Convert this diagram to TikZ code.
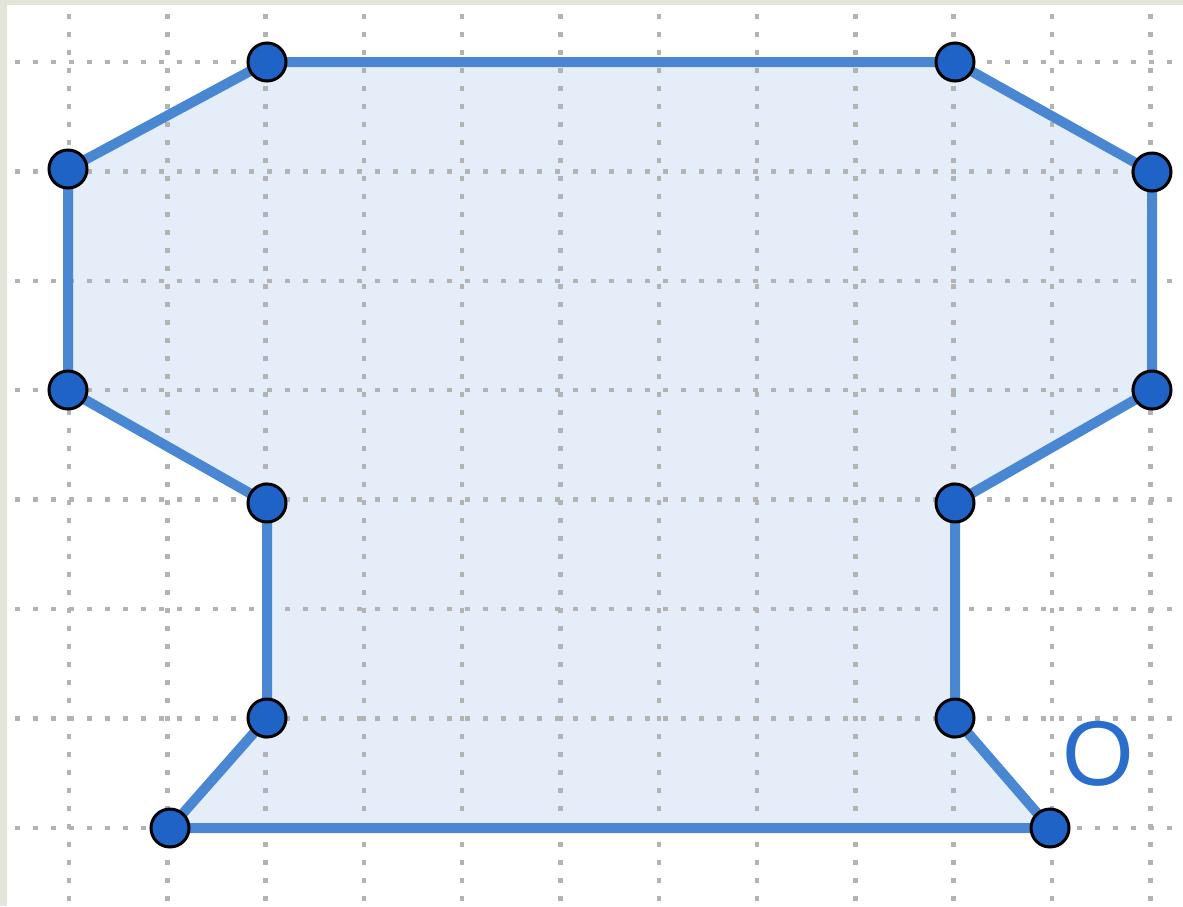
\documentclass[tikz,border=0pt]{standalone}
\usepackage{fontspec}
\setmainfont{Liberation Sans}
\definecolor{edgeblue}{HTML}{4A87D2}
\definecolor{vertblue}{HTML}{1F63C6}
\definecolor{fillblue}{HTML}{E4EDF8}
\definecolor{gridgray}{HTML}{B3B3B3}
\definecolor{framebeige}{HTML}{E4E5DA}
\definecolor{labelblue}{HTML}{2B6DCB}
\tikzset{
  griddot/.style={gridgray, line width=4.5pt, dash pattern=on 4.5pt off 13.5pt},
  edge/.style={edgeblue, line width=10pt, line join=round},
  vert/.style={circle, fill=vertblue, draw=black, line width=3pt, minimum size=38pt, inner sep=0pt},
}
\begin{document}
\begin{tikzpicture}[x=1pt,y=-1pt]
\useasboundingbox (0,0) rectangle (1183,906);
\fill[framebeige] (0,0) rectangle (1183,906);
\fill[white] (7,5) rectangle (1183,906);
% vertices
\coordinate (p1) at (267,62);
\coordinate (p2) at (955,62);
\coordinate (p3) at (1152,172);
\coordinate (p4) at (1152,390);
\coordinate (p5) at (955,503);
\coordinate (p6) at (955,718);
\coordinate (p7) at (1050,828);
\coordinate (p8) at (170,828);
\coordinate (p9) at (267,718);
\coordinate (p10) at (267,503);
\coordinate (p11) at (68,390);
\coordinate (p12) at (68,169);
\fill[fillblue] (p1) -- (p2) -- (p3) -- (p4) -- (p5) -- (p6) -- (p7) -- (p8) -- (p9) -- (p10) -- (p11) -- (p12) -- cycle;
% grid
\foreach \i in {0,...,11} {
  \draw[griddot] (69+\i*98.3,14) -- (69+\i*98.3,906);
}
\foreach \j in {0,...,7} {
  \draw[griddot] (15,62+\j*109.4) -- (1183,62+\j*109.4);
}
\draw[edge] (p1) -- (p2) -- (p3) -- (p4) -- (p5) -- (p6) -- (p7) -- (p8) -- (p9) -- (p10) -- (p11) -- (p12) -- cycle;
\foreach \k in {1,...,12} {
  \node[vert] (v\k) at (p\k) {};
}
\node[text=labelblue, inner sep=0pt] (lab) at (1098,754) {\fontsize{92}{92}\selectfont O};
\end{tikzpicture}
\end{document}
